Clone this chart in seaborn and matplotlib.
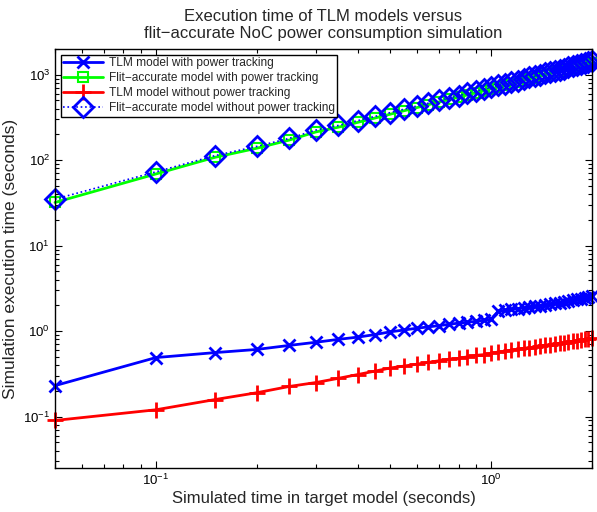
import numpy as np
import pandas as pd
import seaborn as sns
import matplotlib
matplotlib.use("Agg")
import matplotlib.pyplot as plt
from matplotlib.ticker import LogLocator, NullFormatter

# simulated time in target model (seconds)
sim_time = [0.05, 0.10, 0.15, 0.20, 0.25, 0.30, 0.35, 0.40, 0.45, 0.50,
            0.55, 0.60, 0.65, 0.70, 0.75, 0.80, 0.85, 0.90, 0.95, 1.00,
            1.05, 1.10, 1.15, 1.20, 1.25, 1.30, 1.35, 1.40, 1.45, 1.50,
            1.55, 1.60, 1.65, 1.70, 1.75, 1.80, 1.85, 1.90, 1.95, 2.00]

tlm_power = [0.23, 0.49, 0.56, 0.61, 0.68, 0.74, 0.80, 0.85, 0.91, 0.98,
             1.03, 1.08, 1.12, 1.16, 1.20, 1.24, 1.27, 1.30, 1.34, 1.37,
             1.71, 1.75, 1.79, 1.83, 1.87, 1.91, 1.95, 1.99, 2.03, 2.07,
             2.12, 2.16, 2.21, 2.25, 2.30, 2.35, 2.40, 2.45, 2.50, 2.56]

flit_power = [32, 69, 108, 138, 172, 214, 243, 277, 311, 345,
              379, 412, 446, 480, 513, 547, 580, 614, 648, 686,
              720, 754, 787, 821, 854, 893, 926, 960, 994, 1027,
              1066, 1099, 1133, 1166, 1200, 1238, 1272, 1306, 1339, 1373]

tlm_nopower = [0.09, 0.12, 0.158, 0.19, 0.225, 0.25, 0.28, 0.31, 0.34, 0.37,
               0.39, 0.41, 0.43, 0.45, 0.47, 0.48, 0.50, 0.52, 0.53, 0.55,
               0.57, 0.58, 0.60, 0.61, 0.63, 0.64, 0.65, 0.67, 0.68, 0.69,
               0.71, 0.72, 0.73, 0.75, 0.76, 0.77, 0.78, 0.80, 0.81, 0.82]

flit_nopower = [35, 73, 113, 145, 180, 225, 255, 290, 325, 360,
                395, 430, 465, 500, 535, 570, 605, 640, 675, 715,
                750, 785, 820, 855, 890, 930, 965, 1000, 1035, 1070,
                1110, 1145, 1180, 1215, 1250, 1290, 1325, 1360, 1395, 1430]

labels = ["TLM model with power tracking",
          "Flit\u2212accurate model with power tracking",
          "TLM model without power tracking",
          "Flit\u2212accurate model without power tracking"]

sns.set_style("ticks")
plt.rcParams['font.family'] = ['Liberation Sans', 'DejaVu Sans']
plt.rcParams['mathtext.fontset'] = 'custom'
plt.rcParams['mathtext.rm'] = 'Liberation Sans'
plt.rcParams['mathtext.it'] = 'Liberation Sans'

fig = plt.figure(figsize=(5.97, 5.12), dpi=100)
ax = fig.add_axes([55 / 597, 1 - 468 / 512, 537 / 597, 419 / 512])

blue, green, red = "#0000ff", "#00ff00", "#ff0000"
sns.lineplot(x=sim_time, y=tlm_power, ax=ax, color=blue, lw=2, marker="x",
             ms=8.5, mew=2, mec=blue, label=labels[0], clip_on=False)
sns.lineplot(x=sim_time, y=flit_power, ax=ax, color=green, lw=2, marker="s",
             ms=7.5, mew=1.5, mec=green, mfc="none", label=labels[1], clip_on=False)
sns.lineplot(x=sim_time, y=tlm_nopower, ax=ax, color=red, lw=2, marker="+",
             ms=12, mew=2, mec=red, label=labels[2], clip_on=False)
sns.lineplot(x=sim_time, y=flit_nopower, ax=ax, color=blue, lw=1.2, ls=":",
             marker="D", ms=10, mew=2, mec=blue, mfc="none", label=labels[3], clip_on=False)

ax.set_xscale("log")
ax.set_yscale("log")
ax.set_xlim(0.05, 2)
ax.set_ylim(0.025, 2000)
ax.yaxis.set_major_locator(LogLocator(base=10, numticks=12))
ax.yaxis.set_minor_locator(LogLocator(base=10, subs=np.arange(2, 10), numticks=12))
ax.xaxis.set_minor_formatter(NullFormatter())
ax.yaxis.set_minor_formatter(NullFormatter())
ax.tick_params(which="both", direction="in", top=True, right=True, colors="black",
               labelsize=9.5, width=0.8)
ax.tick_params(which="major", length=5)
ax.tick_params(which="minor", length=3)
for sp in ax.spines.values():
    sp.set_color("black")
    sp.set_linewidth(1)

ax.set_xlabel("Simulated time in target model (seconds)", fontsize=12, labelpad=2)
ax.set_ylabel("Simulation execution time (seconds)", fontsize=12.5, labelpad=4)
ax.set_title("Execution time of TLM models versus\nflit\u2212accurate NoC power consumption simulation",
             fontsize=12, pad=8, linespacing=1.15)

leg = ax.legend(loc="upper left", fontsize=8.6, handlelength=3.3, borderaxespad=0.5,
                labelspacing=0.25, borderpad=0.2, handletextpad=0.5, fancybox=False,
                framealpha=1, edgecolor="black")
leg.get_frame().set_linewidth(1)
leg.set_zorder(5)

fig.savefig("out.png", dpi=100)
